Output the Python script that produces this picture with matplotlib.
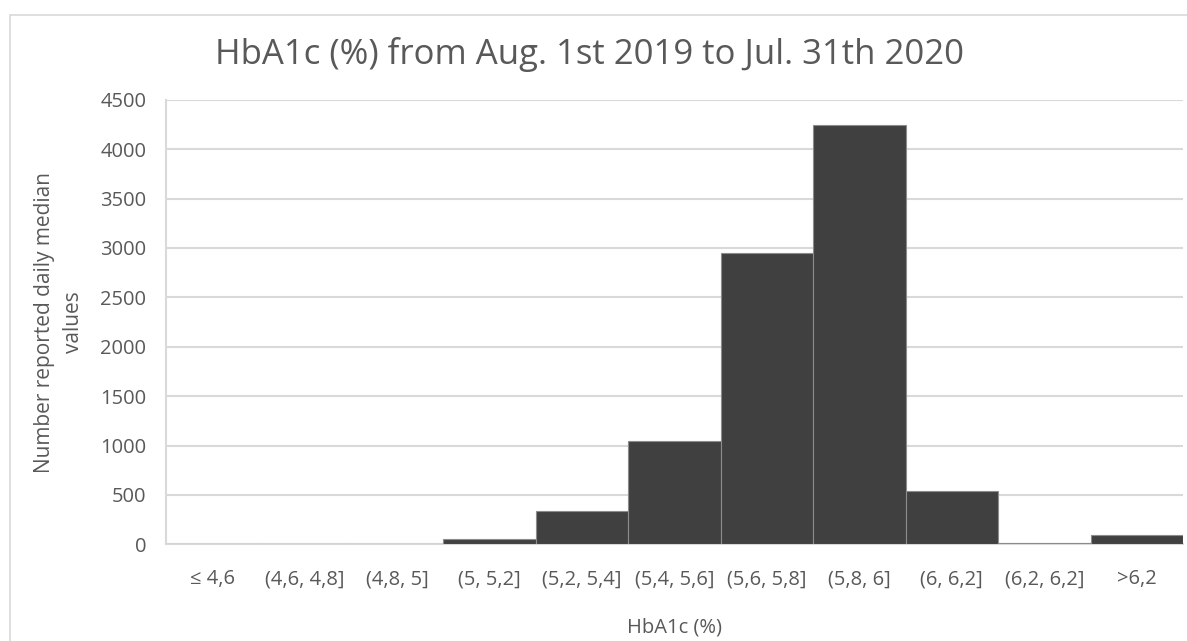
import numpy as np
import matplotlib
matplotlib.use("Agg")
import matplotlib.pyplot as plt
from matplotlib.patches import Rectangle

plt.rcParams['font.family'] = ['Open Sans', 'DejaVu Sans']

categories = ["≤ 4,6", "(4,6, 4,8]", "(4,8, 5]", "(5, 5,2]", "(5,2, 5,4]", "(5,4, 5,6]",
              "(5,6, 5,8]", "(5,8, 6]", "(6, 6,2]", "(6,2, 6,2]", ">6,2"]
counts = [0, 0, 0, 55, 340, 1050, 2945, 4240, 545, 10, 100]
yticks = [0, 500, 1000, 1500, 2000, 2500, 3000, 3500, 4000, 4500]

txt = "#595959"
grid = "#d9d9d9"

fig = plt.figure(figsize=(11.87, 6.41), dpi=100)
ax = fig.add_axes([0.1398, 0.1507, 0.9966 - 0.1398, 0.8445 - 0.1507])

x = np.arange(len(categories))
ax.bar(x, counts, width=1.0, color="#404040", edgecolor="#8c8c8c", linewidth=0.8, zorder=3)

ax.set_xlim(-0.5, len(categories) - 0.5)
ax.set_ylim(0, 4500)
ax.set_yticks(yticks)
ax.set_xticks(x)
ax.set_xticklabels(categories)
ax.tick_params(axis="both", length=0, labelsize=14.5, colors=txt)
ax.tick_params(axis="x", pad=18)
ax.tick_params(axis="y", pad=14)
ax.grid(axis="y", color=grid, linewidth=1.5, zorder=0)
for s in ["top", "right"]:
    ax.spines[s].set_visible(False)
for s in ["left", "bottom"]:
    ax.spines[s].set_color(grid)
    ax.spines[s].set_linewidth(1.5)

ax.set_xlabel("HbA1c (%)", fontsize=14.5, color=txt, labelpad=20)
ax.set_ylabel("Number reported daily median\nvalues", fontsize=15, color=txt, labelpad=12,
              linespacing=1.5)

fig.text(0.497, 0.915, "HbA1c (%) from Aug. 1st 2019 to Jul. 31th 2020",
         ha="center", va="center", fontsize=25, color=txt)

# outer chart border
fig.patches.append(Rectangle((10 / 1187, -0.05), 1.2, 1 - 15 / 641 + 0.05,
                             transform=fig.transFigure, fill=False,
                             edgecolor=grid, linewidth=1.2))

fig.savefig("out.png", dpi=100)
